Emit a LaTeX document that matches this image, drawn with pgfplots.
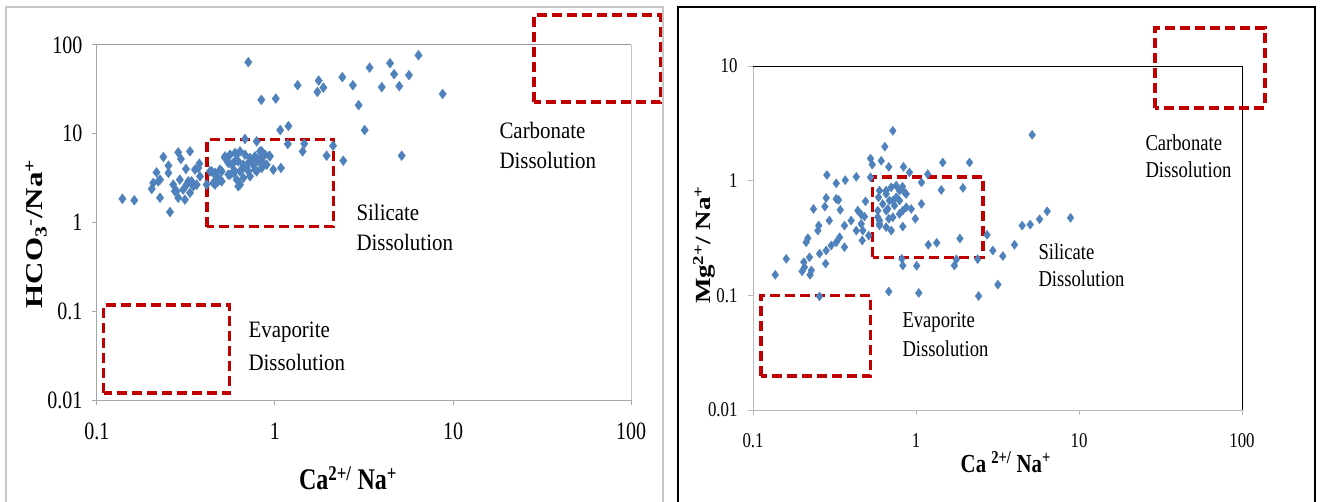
\documentclass[border=0pt]{standalone}
\usepackage{fontspec}
\setmainfont{Liberation Serif}
\newfontfamily\tf{Liberation Serif}[FakeStretch=0.8]
\newfontfamily\afL{Liberation Serif}[FakeStretch=0.89]
\newfontfamily\afR{Liberation Serif}[FakeStretch=0.82]
\usepackage{graphicx}
\usepackage{pgfplots}
\pgfplotsset{compat=1.18}
\definecolor{mk}{HTML}{4F81BD}
\definecolor{bx}{HTML}{C00000}
\tikzset{redbox/.style={draw=bx, line width=3.4pt, dash pattern=on 10pt off 5pt}}
\begin{document}
\begin{tikzpicture}[x=1pt,y=1pt]
\useasboundingbox (0,0) rectangle (1322,501);
\draw[gray!45, line width=1.2pt] (6,-2) -- (6,494) -- (663,494) -- (663,-2);
\draw[black, line width=1.6pt] (678,-2) -- (678,494) -- (1315,494) -- (1315,-2);

% ---------------- left panel ----------------
\begin{loglogaxis}[scale only axis,
  axis lines*=left, tick align=outside, major tick length=5pt,
  xminorticks=false, yminorticks=false,
  xmin=0.1, xmax=100,
  xtick={0.1,1,10,100}, xticklabels={0.1,1,10,100},
  clip=false,
  at={(97pt,101pt)}, anchor=south west, width=534pt, height=355pt,
  ymin=0.01, ymax=100,
  ytick={0.01,0.1,1,10,100}, yticklabels={0.01,0.1,1,10,100},
  axis line style={gray!70, line width=1pt}, tick style={gray!70, line width=1pt},
  xticklabel style={font=\tf\fontsize{25}{25}\selectfont, yshift=-14pt},
  yticklabel style={font=\tf\fontsize{25}{25}\selectfont, xshift=-6pt},
  xlabel={\tf\fontsize{30}{30}\selectfont\bfseries Ca\textsuperscript{2+/} Na\textsuperscript{+}},
  xlabel style={at={(axis description cs:0.47,-0.22)}, anchor=center},
  ylabel={\scalebox{1}[0.78]{\fontsize{31}{31}\selectfont\bfseries HCO\textsubscript{3}\textsuperscript{-}/Na\textsuperscript{+}}},
  ylabel style={at={(axis description cs:-0.114,0.468)}, anchor=center},
]
\draw[gray!80, line width=1pt] (rel axis cs:0,1) -- (rel axis cs:1,1);
\draw[gray!45, line width=1pt] (rel axis cs:1,1) -- (rel axis cs:1,0);
\addplot[only marks, mark=diamond*, mark size=4.9pt, mark options={fill=mk, draw=mk}] coordinates {
(0.708,64) (0.838,24.1) (1.01,24.9) (1.34,35.2) (1.07,11.0) (1.19,12.2) (1.76,39.7) (1.73,29.6)
(1.87,33.1) (2.39,43.4) (2.74,35.2) (2.95,21.0) (3.19,11.0) (3.40,55.6) (3.98,33.5) (4.43,62.3)
(4.67,46.9) (4.99,34.4) (5.66,45.7) (6.40,76.6) (8.75,28.1) (5.15,5.66) (2.42,4.97) (1.95,5.66)
(2.12,7.33) (1.43,6.33) (1.46,7.72) (1.18,7.66) (0.678,8.72) (0.789,8.2) (0.929,5.66) (0.841,6.33)
(0.139,1.85) (0.162,1.78) (0.257,1.31) (0.236,5.47) (0.286,6.17) (0.333,6.33) (0.296,5.2) (0.252,4.37)
(0.216,3.67) (0.252,3.62) (0.316,4.01) (0.376,4.6) (0.355,3.94) (0.207,2.79) (0.226,3.04) (0.203,2.39)
(0.226,1.9) (0.268,2.67) (0.292,3.04) (0.326,2.91) (0.348,2.56) (0.274,2.25) (0.305,2.35) (0.286,1.9)
(0.312,1.81) (0.333,2.16) (0.379,3.31) (0.413,2.67) (0.46,3.62) (0.491,3.04) (0.45,2.79) (0.524,5.56)
(0.547,4.69) (0.583,3.62) (0.609,5.1)
(0.371,4.12) (0.363,2.67) (0.46,3.46) (0.502,3.77) (0.48,2.91) (0.524,5.33) (0.559,5.81) (0.596,6.07)
(0.636,6.33) (0.678,5.81) (0.724,5.33) (0.772,5.56) (0.824,6.33) (0.879,5.81) (0.937,5.56) (0.583,4.69)
(0.622,4.88) (0.664,4.48) (0.708,4.69) (0.755,4.48) (0.806,4.88) (0.859,4.69) (0.596,3.77) (0.65,3.94)
(0.708,3.77) (0.772,3.94) (0.842,4.12) (0.978,3.94) (1.08,4.12) (0.609,3.04) (0.622,2.56) (0.559,3.46)
(0.431,3.77)
(0.441,3.77) (0.47,3.31) (0.502,2.91) (0.46,2.67) (0.536,5.33) (0.571,4.48) (0.609,5.81) (0.636,3.77)
(0.693,4.12) (0.755,4.88) (0.824,5.33) (0.898,4.48) (0.789,3.77) (0.724,3.31) (0.636,2.67) (0.664,3.18)
(0.547,3.46) (0.491,3.94) (0.221,2.91) (0.319,2.67) (0.34,2.91) (0.28,2.25)
};
\draw[redbox] (axis cs:28.5,22.9) rectangle (axis cs:147,217);
\draw[redbox] (axis cs:0.415,0.9) rectangle (axis cs:2.13,8.6);
\draw[redbox] (axis cs:0.109,0.012) rectangle (axis cs:0.556,0.118);
\end{loglogaxis}
\node[anchor=west, font=\afL\fontsize{23.5}{23.5}\selectfont] at (496,501-130) {Carbonate};
\node[anchor=west, font=\afL\fontsize{23.5}{23.5}\selectfont] at (496,501-160) {Dissolution};
\node[anchor=west, font=\afL\fontsize{23.5}{23.5}\selectfont] at (353,501-212) {Silicate};
\node[anchor=west, font=\afL\fontsize{23.5}{23.5}\selectfont] at (353,501-242) {Dissolution};
\node[anchor=west, font=\afL\fontsize{23.5}{23.5}\selectfont] at (245,501-332) {Evaporite};
\node[anchor=west, font=\afL\fontsize{23.5}{23.5}\selectfont] at (245,501-362) {Dissolution};

% ---------------- right panel ----------------
\begin{loglogaxis}[scale only axis,
  axis lines*=left, tick align=outside, major tick length=5pt,
  xminorticks=false, yminorticks=false,
  xmin=0.1, xmax=100,
  xtick={0.1,1,10,100}, xticklabels={0.1,1,10,100},
  clip=false,
  at={(753pt,91pt)}, anchor=south west, width=489pt, height=344pt,
  ymin=0.01, ymax=10,
  ytick={0.01,0.1,1,10}, yticklabels={0.01,0.1,1,10},
  axis line style={gray!55, line width=1pt}, tick style={gray!55, line width=1pt},
  xticklabel style={font=\tf\fontsize{21}{21}\selectfont, yshift=-15pt},
  yticklabel style={font=\tf\fontsize{21}{21}\selectfont, xshift=-7pt},
  xlabel={\tf\fontsize{26}{26}\selectfont\bfseries Ca \textsuperscript{2+/} Na\textsuperscript{+}},
  xlabel style={at={(axis description cs:0.517,-0.151)}, anchor=center},
  ylabel={\scalebox{1}[0.8]{\fontsize{27}{27}\selectfont\bfseries Mg\textsuperscript{2+}/ Na\textsuperscript{+}}},
  ylabel style={at={(axis description cs:-0.1,0.48)}, anchor=center},
]
\draw[black, line width=1pt] (rel axis cs:0,1) -- (rel axis cs:1,1) -- (rel axis cs:1,0);
\addplot[only marks, mark=diamond*, mark size=4.5pt, mark options={fill=mk, draw=mk}] coordinates {
(0.137,0.151) (0.16,0.208) (0.2,0.162) (0.224,0.151) (0.205,0.195) (0.222,0.215) (0.212,0.29) (0.217,0.315)
(0.256,0.231) (0.279,0.189) (0.281,0.246) (0.302,0.272) (0.324,0.29) (0.34,0.321) (0.364,0.263) (0.25,0.367)
(0.253,0.406) (0.294,0.449) (0.235,0.567) (0.276,0.594) (0.324,0.693) (0.335,0.679) (0.343,0.556) (0.284,1.12)
(0.324,0.948) (0.368,1.01) (0.43,1.08) (0.4,0.449) (0.364,0.406) (0.44,0.548) (0.461,0.506) (0.49,0.661)
(0.483,0.486) (0.461,0.42) (0.513,0.332) (0.468,0.301) (0.43,0.367) (0.526,1.56) (0.539,1.38) (0.612,1.49)
(0.644,1.98) (0.681,1.32) (0.721,2.72) (0.838,1.32) (0.912,1.18) (0.526,1.07) (0.589,0.716) (0.656,0.819)
(0.705,0.875) (0.756,0.905) (0.792,0.819) (0.85,0.791) (0.625,0.627) (0.671,0.567) (0.738,0.607) (0.792,0.67)
(0.871,0.586) (0.935,0.567) (1.08,0.627) (1.08,0.966) (1.18,1.14) (1.43,0.83) (1.46,1.44) (1.94,0.864)
(2.13,1.44) (0.99,0.465) (0.83,0.398) (0.705,0.367) (0.656,0.393) (0.597,0.406) (0.583,0.48) (0.681,0.465)
(1.19,0.276) (1.34,0.287) (1.86,0.313) (0.83,0.182) (1.01,0.181) (1.72,0.182) (2.39,0.207) (2.73,0.337)
(2.96,0.246) (3.41,0.22) (4.02,0.276) (4.48,0.406) (5.02,0.414) (5.73,0.461) (6.38,0.541) (8.87,0.474)
(5.16,2.51) (3.18,0.124) (0.681,0.108) (1.04,0.105) (2.42,0.0986) (0.256,0.098) (0.819,0.208) (1.77,0.206)
(0.207,0.176) (0.228,0.165) (0.597,0.819) (0.721,0.48) (0.583,0.548) (0.756,0.716) (0.687,0.67) (0.472,0.367)
(0.83,0.548) (0.597,0.449) (0.281,0.707)
(0.656,0.766) (0.721,0.67) (0.826,0.887) (0.871,0.766) (0.656,0.548) (0.597,0.42) (0.792,0.513)
};
\draw[redbox] (axis cs:29.3,4.3) rectangle (axis cs:138,21.4);
\draw[redbox] (axis cs:0.543,0.215) rectangle (axis cs:2.57,1.08);
\draw[redbox] (axis cs:0.112,0.0198) rectangle (axis cs:0.527,0.1);
\end{loglogaxis}
\node[anchor=west, font=\afR\fontsize{22.7}{22.7}\selectfont] at (1142,501-143) {Carbonate};
\node[anchor=west, font=\afR\fontsize{22.7}{22.7}\selectfont] at (1142,501-170) {Dissolution};
\node[anchor=west, font=\afR\fontsize{22.7}{22.7}\selectfont] at (1035,501-252) {Silicate};
\node[anchor=west, font=\afR\fontsize{22.7}{22.7}\selectfont] at (1035,501-279) {Dissolution};
\node[anchor=west, font=\afR\fontsize{22.7}{22.7}\selectfont] at (899,501-322) {Evaporite};
\node[anchor=west, font=\afR\fontsize{22.7}{22.7}\selectfont] at (899,501-349) {Dissolution};
\end{tikzpicture}
\end{document}
